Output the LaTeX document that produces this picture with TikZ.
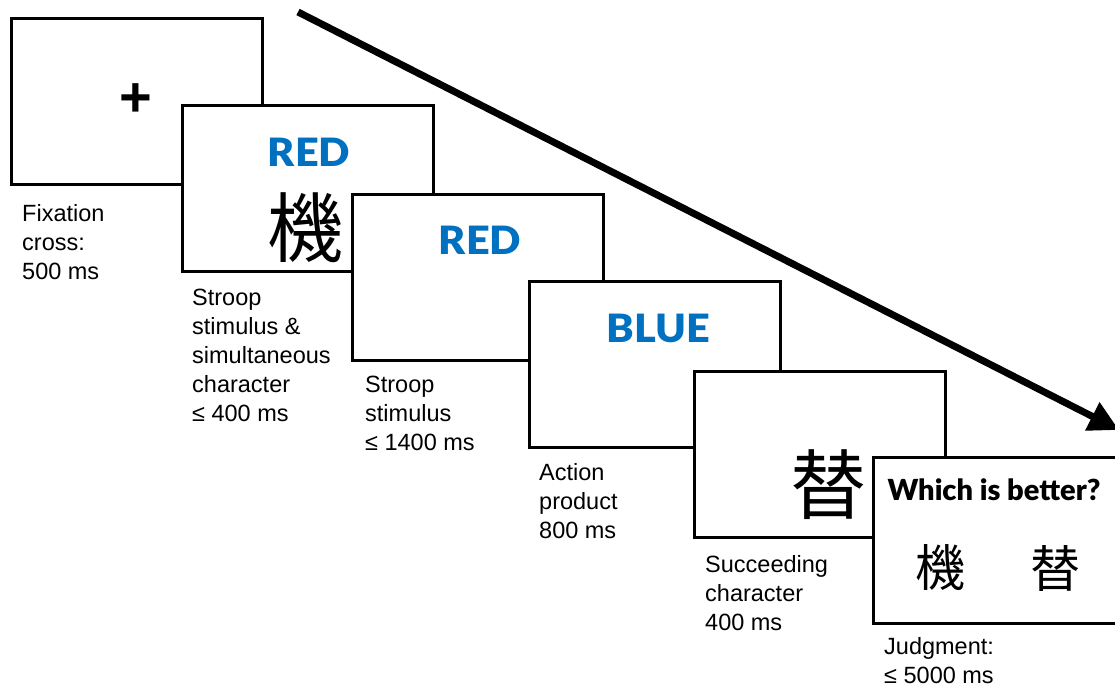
\documentclass[tikz,border=0pt]{standalone}
\usepackage{fontspec}
\setmainfont{Liberation Sans}
\newfontfamily\cjk{Noto Sans CJK JP}
\newfontfamily\gill{Lato Black}
\usetikzlibrary{arrows.meta}
\definecolor{stroopblue}{RGB}{0,112,192}
\tikzset{
  screen/.style={draw=black, line width=3pt, fill=white, minimum width=251pt, minimum height=166pt, anchor=north west, inner sep=0pt},
  lbl/.style={anchor=north west, align=left, inner sep=0pt, font=\fontsize{23.5}{29}\selectfont},
  colword/.style={text=stroopblue, inner sep=0pt, xscale=1.06, font=\gill\fontsize{39}{42}\selectfont},
  bigchar/.style={inner sep=0pt, font=\cjk\fontsize{76}{80}\selectfont},
  smallchar/.style={inner sep=0pt, font=\cjk\fontsize{50}{54}\selectfont},
}
\begin{document}
\begin{tikzpicture}[x=1pt,y=-1pt]
\useasboundingbox (0,0) rectangle (1115,687);
\clip (0,0) rectangle (1115,687);
% time arrow
\coordinate (astart) at (298,12);
\coordinate (aend) at (1119,430);
\draw[line width=7pt, -{Triangle[length=30pt,width=30pt]}] (astart) -- (aend);
% screens
\node[screen] (s1) at (10,17) {};
\node[inner sep=0pt, font=\bfseries\fontsize{56}{60}\selectfont] (plus) at (136,100) {+};
\node[lbl] (l1) at (22,204) {Fixation\\cross:\\500 ms};

\node[screen] (s2) at (181,104) {};
\node[colword] (w2) at (309,152) {RED};
\node[bigchar] (c2) at (305,228) {機};
\node[lbl] (l2) at (192,289) {Stroop\\stimulus \&\\simultaneous\\character\\≤ 400 ms};

\node[screen] (s3) at (351,193) {};
\node[colword] (w3) at (480,240) {RED};
\node[lbl] (l3) at (365,376) {Stroop\\stimulus\\≤ 1400 ms};

\node[screen] (s4) at (528,280) {};
\node[colword] (w4) at (658,328) {BLUE};
\node[lbl] (l4) at (539,463) {Action\\product\\800 ms};

\node[screen] (s5) at (693,370) {};
\node[bigchar] (c5) at (828,485) {替};
\node[lbl] (l5) at (705,555) {Succeeding\\character\\400 ms};

\node[screen] (s6) at (872,456) {};
\node[inner sep=0pt, font=\gill\fontsize{29}{32}\selectfont] (q6) at (994,490) {Which is better?};
\node[smallchar] (c6a) at (940,568) {機};
\node[smallchar] (c6b) at (1055,568) {替};
\node[lbl] (l6) at (884,637) {Judgment:\\≤ 5000 ms};
\end{tikzpicture}
\end{document}
